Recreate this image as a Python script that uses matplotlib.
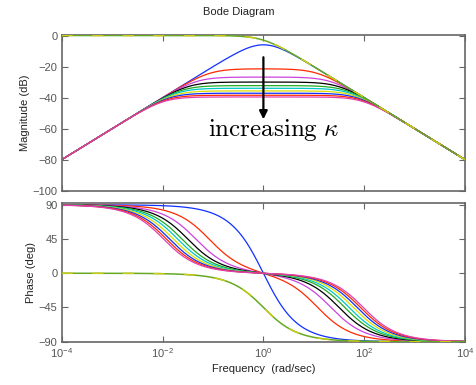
import numpy as np
import matplotlib.pyplot as plt

# peak / plateau magnitude of each band-pass curve (dB)
peak_db = [-6.0, -21.5, -26.8, -30.0, -32.3, -34.0, -35.7, -37.2, -38.5, -39.6]
curve_colors = ['#1030ff', '#ff2a00', '#cc44dd', '#000000', '#22aa22',
                '#00c8c8', '#dddd00', '#1030ff', '#ff2a00', '#e040b0']
# first-order low-pass corner (rad/sec)
lowpass_corner = 1.0

x_ticks = [1e-4, 1e-2, 1e0, 1e2, 1e4]
x_labels = [r'$10^{-4}$', r'$10^{-2}$', r'$10^{0}$', r'$10^{2}$', r'$10^{4}$']
mag_ticks = [0, -20, -40, -60, -80, -100]
phase_ticks = [90, 45, 0, -45, -90]

plt.rcParams['font.family'] = ['Liberation Sans', 'DejaVu Sans']
plt.rcParams['mathtext.fontset'] = 'custom'
plt.rcParams['mathtext.rm'] = 'Liberation Sans'
plt.rcParams['axes.unicode_minus'] = True

w = np.logspace(-4, 4, 1200)
s = 1j * w

fig = plt.figure(figsize=(4.77, 3.85), dpi=100)
ax_m = fig.add_axes([0.1294, 0.5047, 0.8456, 0.4043])
ax_p = fig.add_axes([0.1294, 0.1125, 0.8456, 0.3595])

# low-pass curve (green/yellow overlap)
H_lp = 1.0 / (s / lowpass_corner + 1.0)
for ax, vals in ((ax_m, 20 * np.log10(np.abs(H_lp))),
                 (ax_p, np.degrees(np.angle(H_lp)))):
    ax.semilogx(w, vals, color='#66aa22', lw=1.1, zorder=3)
    ax.semilogx(w, vals, color='#cccc11', lw=1.0, ls=(0, (8, 14)), zorder=3)

# band-pass family s / (s^2 + c s + 1), c set by the read peak level
for p, col in zip(peak_db, curve_colors):
    c = 10 ** (-p / 20.0)
    H = s / (s ** 2 + c * s + 1.0)
    ax_m.semilogx(w, 20 * np.log10(np.abs(H)), color=col, lw=0.9, zorder=2)
    ax_p.semilogx(w, np.degrees(np.angle(H)), color=col, lw=0.9, zorder=2)

ax_m.set_ylim(-100, 0.3)
ax_p.set_ylim(-90, 92)
ax_m.set_yticks(mag_ticks)
ax_p.set_yticks(phase_ticks)

for ax in (ax_m, ax_p):
    ax.set_xlim(1e-4, 1e4)
    ax.set_xticks(x_ticks)
    ax.minorticks_off()
    ax.tick_params(direction='in', top=True, right=True, length=4,
                   width=0.8, color='#666666', labelsize=8,
                   labelcolor='#555555', pad=3)
    for sp in ax.spines.values():
        sp.set_color('#666666')
        sp.set_linewidth(1.2)

ax_m.set_xticklabels([])
ax_p.set_xticklabels(x_labels)

ax_m.set_ylabel('Magnitude (dB)', fontsize=8, color='#222222', labelpad=2)
ax_p.set_ylabel('Phase (deg)', fontsize=8, color='#222222', labelpad=2)
ax_p.set_xlabel('Frequency  (rad/sec)', fontsize=8, color='#222222', labelpad=3)
fig.text(0.5, 0.968, 'Bode Diagram', ha='center', va='center', fontsize=8,
         color='#222222')

ax_m.annotate('', xy=(1.0, -54), xytext=(1.0, -14),
              arrowprops=dict(arrowstyle='-|>', color='black', lw=1.6,
                              mutation_scale=12, shrinkA=0, shrinkB=0))
ax_m.text(1.6, -61, r'$\mathrm{increasing}\ \kappa$', ha='center', va='center',
          fontsize=18, math_fontfamily='cm')

fig.savefig('out.png', dpi=100)
